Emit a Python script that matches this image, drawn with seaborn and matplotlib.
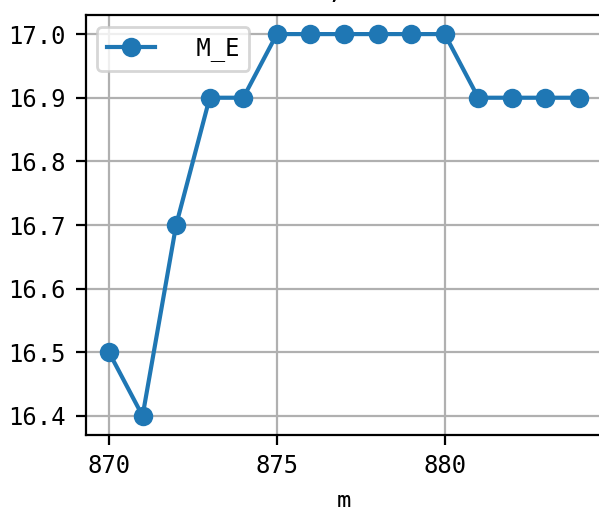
import numpy as np
import pandas as pd
import matplotlib
matplotlib.use('Agg')
import matplotlib.pyplot as plt
import seaborn as sns

# dados
m_values = [870, 871, 872, 873, 874, 875, 876, 877, 878, 879, 880, 881, 882, 883, 884]
me_values = [16.5, 16.4, 16.7, 16.9, 16.9, 17.0, 17.0, 17.0, 17.0, 17.0, 17.0, 16.9, 16.9, 16.9, 16.9]
series_label = ' M_E'
title_text = 'k=10, N=20'

df = pd.DataFrame({'m': m_values, 'M_E': me_values})

plt.rcParams['font.family'] = ['DejaVu Sans Mono', 'DejaVu Sans']
plt.rcParams['font.size'] = 8.6
plt.rcParams['axes.titlesize'] = 10.3
plt.rcParams['axes.unicode_minus'] = False

fig = plt.figure(figsize=(599 / 200, 507 / 200), dpi=200)
# o gráfico original está cortado à direita e no topo
ax = fig.add_axes([85.5 / 599, (507 - 435) / 507, (602.5 - 85.5) / 599, (435 - 15) / 507])

sns.lineplot(data=df, x='m', y='M_E', marker='o', markersize=6,
             markeredgecolor='#1f77b4', markeredgewidth=1.0,
             color='#1f77b4', linewidth=1.5, label=series_label, ax=ax)

ax.set_title(title_text)
ax.set_xlabel('m')
ax.set_ylabel('')
ax.set_xticks([870, 875, 880])
ax.set_yticks([16.4, 16.5, 16.6, 16.7, 16.8, 16.9, 17.0])
ax.grid(True)
ax.legend(loc='upper left', handletextpad=1.15)

fig.savefig('out.png', dpi=200)
